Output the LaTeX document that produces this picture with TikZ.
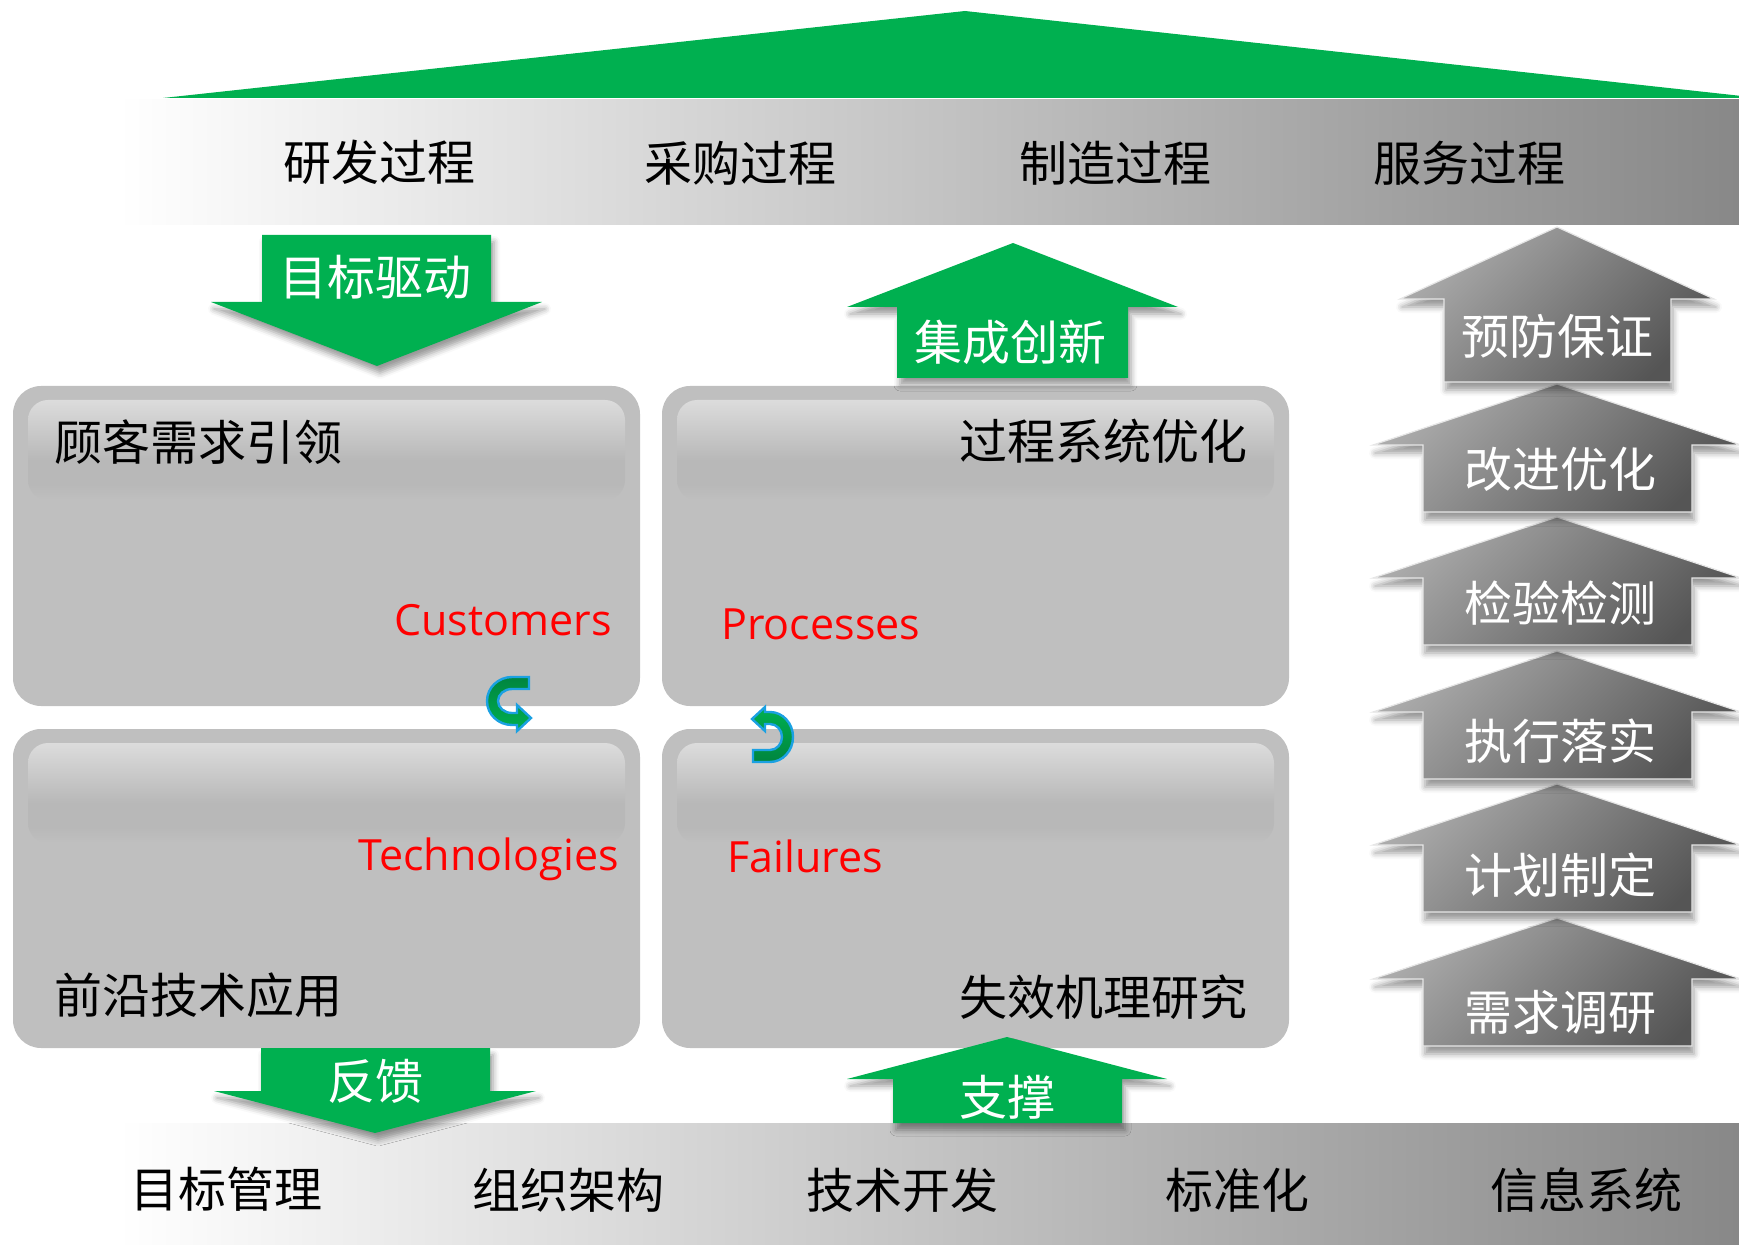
\documentclass[tikz,border=0pt]{standalone}
\usepackage{fontspec}
\newfontfamily\cjk{Noto Sans CJK SC}
\newfontfamily\enf{Open Sans}
\usetikzlibrary{shadows.blur}
\definecolor{grn}{HTML}{00B050}
\definecolor{dgrn}{HTML}{00853F}
\definecolor{cyanb}{HTML}{1BA1E2}
\definecolor{boxg}{HTML}{BFBFBF}
\definecolor{glossA}{HTML}{DCDCDC}
\definecolor{glossB}{HTML}{B8B8B8}
\definecolor{bandR}{HTML}{888888}
\definecolor{arrL}{HTML}{ABABAB}
\definecolor{arrD}{HTML}{555555}
\definecolor{arrE}{HTML}{E6E6E6}
\pgfdeclareverticalshading{gloss}{100bp}{color(0bp)=(boxg); color(25bp)=(boxg); color(33bp)=(glossB); color(45bp)=(glossB); color(75bp)=(glossA); color(100bp)=(glossA)}
\tikzset{
  cjkfont/.style={font=\cjk\fontsize{24pt}{28pt}\selectfont, inner sep=0pt},
  lbl/.style={cjkfont, text=black},
  wlbl/.style={cjkfont, text=white},
  enlbl/.style={font=\enf\fontsize{21.5pt}{26pt}\selectfont, text=red, inner sep=0pt},
  band/.style={left color=white, right color=bandR},
  panel/.style={fill=boxg, rounded corners=14pt},
  glossy/.style={shading=gloss, rounded corners=10pt},
  greenarrow/.style={fill=grn, blur shadow={shadow xshift=1.5pt, shadow yshift=-3.5pt, shadow blur radius=3pt, shadow opacity=40}},
  grayarrow/.style={top color=arrL, bottom color=arrD, shading angle=45, draw=arrE, line width=0.6pt, blur shadow={shadow xshift=1pt, shadow yshift=-4pt, shadow blur radius=3pt, shadow opacity=40}},
  curlA/.style={top color=dgrn, bottom color=grn, draw=cyanb, line width=1.2pt},
  curlB/.style={top color=grn, bottom color=dgrn, draw=cyanb, line width=1.2pt},
}
\begin{document}
\begin{tikzpicture}[x=0.5pt,y=-0.5pt]
\useasboundingbox (0,0) rectangle (1739,1245);

% roof
\fill[grn] (163,98) -- (965,11) -- (1760,98) -- cycle;

% bands
\shade[band] (118,100) rectangle (1739,225);
\shade[band] (118,1123) rectangle (1739,1245);

% top band texts
\node[lbl] (p1) at (379,162) {研发过程};
\node[lbl] (p2) at (740,163) {采购过程};
\node[lbl] (p3) at (1115,163) {制造过程};
\node[lbl] (p4) at (1469,163) {服务过程};

% bottom band texts
\node[lbl] (f1) at (226,1189) {目标管理};
\node[lbl] (f2) at (568,1190) {组织架构};
\node[lbl] (f3) at (902,1190) {技术开发};
\node[lbl] (f4) at (1237,1190) {标准化};
\node[lbl] (f5) at (1586,1190) {信息系统};

% panels
\fill[panel] (13,386) rectangle (640,706);
\fill[panel] (662,386) rectangle (1289,706);
\fill[panel] (13,729) rectangle (640,1048);
\fill[panel] (662,729) rectangle (1289,1048);
\shade[glossy] (28,400) rectangle (625,500);
\shade[glossy] (677,400) rectangle (1274,500);
\shade[glossy] (28,743) rectangle (625,843);
\shade[glossy] (677,743) rectangle (1274,843);

% panel texts
\node[lbl, anchor=west] (c1) at (54,442) {顾客需求引领};
\node[lbl, anchor=east] (c2) at (1248,441) {过程系统优化};
\node[lbl, anchor=west] (c3) at (54,995) {前沿技术应用};
\node[lbl, anchor=east] (c4) at (1248,997) {失效机理研究};
\node[enlbl, anchor=base east] (e1) at (612,635) {Customers};
\node[enlbl, anchor=base west] (e2) at (721,639) {Processes};
\node[enlbl, anchor=base east] (e3) at (619,870) {Technologies};
\node[enlbl, anchor=base west] (e4) at (727,872) {Failures};

% curved arrows
\shade[curlA] (529,677) -- (512,677) arc[start angle=270, end angle=90, x radius=25, y radius=24]
  -- (517,725) -- (517,731) -- (531,718) -- (517,705) -- (517,713) -- (512,713)
  arc[start angle=90, end angle=270, x radius=14, y radius=12] -- (529,689) -- cycle;
\shade[curlB] (753,762) -- (770,762) arc[start angle=90, end angle=-90, x radius=23, y radius=25]
  -- (765,712) -- (765,707) -- (752,719) -- (765,731) -- (765,724) -- (770,724)
  arc[start angle=-90, end angle=90, x radius=12, y radius=13] -- (753,750) -- cycle;

% green arrows
\fill[greenarrow] (262,235) -- (491,235) -- (491,302) -- (542,302) -- (377,366) -- (211,302) -- (262,302) -- cycle;
\node[wlbl] (a1) at (375,277) {目标驱动};
\fill[greenarrow] (1013,243) -- (1178,307) -- (1128,307) -- (1128,378) -- (897,378) -- (897,307) -- (847,307) -- cycle;
\node[wlbl] (a2) at (1010,342) {集成创新};
\fill[greenarrow] (261,1048) -- (490,1048) -- (490,1091) -- (536,1091) -- (375,1133) -- (214,1091) -- (261,1091) -- cycle;
\node[wlbl] (a3) at (375,1081) {反馈};
\fill[greenarrow] (1007,1037) -- (1167,1079) -- (1122,1079) -- (1122,1123) -- (893,1123) -- (893,1079) -- (847,1079) -- cycle;
\node[wlbl] (a4) at (1007,1097) {支撑};

% gray arrows (bottom to top)
\foreach \ay/\txt/\ty [count=\i] in {918/需求调研/1012, 784/计划制定/875, 651/执行落实/741, 517/检验检测/603, 384/改进优化/469} {
  \shade[grayarrow] (1557,\ay) -- (1741,\ay+61) -- (1692,\ay+61) -- (1692,\ay+128) -- (1423,\ay+128) -- (1423,\ay+61) -- (1373,\ay+61) -- cycle;
  \node[wlbl] (g\i) at (1560,\ty) {\txt};
}
\shade[grayarrow] (1557,227) -- (1714,299) -- (1671,299) -- (1671,382) -- (1444,382) -- (1444,299) -- (1400,299) -- cycle;
\node[wlbl] (g6) at (1557,336) {预防保证};
\end{tikzpicture}
\end{document}
